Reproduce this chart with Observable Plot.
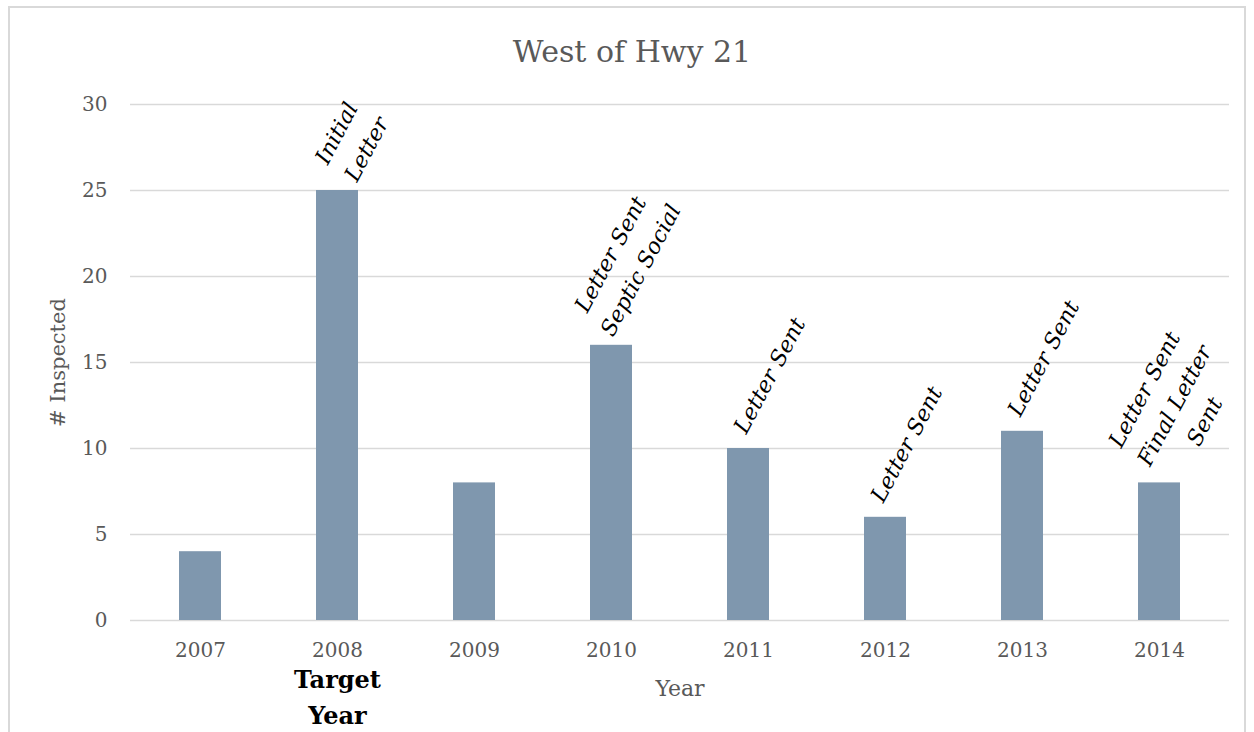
<!DOCTYPE html>
<html>
<head>
<meta charset="utf-8">
<script src="https://cdn.jsdelivr.net/npm/d3@7"></script>
<script src="https://cdn.jsdelivr.net/npm/@observablehq/plot@0.6"></script>
<style>
  html, body { margin: 0; padding: 0; background: #ffffff; width: 1254px; height: 732px; overflow: hidden; }
  #frame { position: absolute; left: 8px; top: 6px; width: 1238px; height: 760px; box-sizing: border-box; border: 2px solid #d9d9d9; }
  #title { position: absolute; left: 0; top: 34px; width: 1264px; text-align: center; font-family: 'DejaVu Serif', serif; font-size: 30px; line-height: 36px; color: #595959; }
  #chart { position: absolute; left: 0; top: 80px; }
</style>
</head>
<body>
<div id="frame"></div>
<div id="title"></div>
<div id="chart"></div>
<script>
// ---- data ----
const chartTitle = "West of Hwy 21";
const years = ["2007", "2008", "2009", "2010", "2011", "2012", "2013", "2014"];
const inspected = [4, 25, 8, 16, 10, 6, 11, 8];
const yTicks = [0, 5, 10, 15, 20, 25, 30];
const annotationYears = ["2008", "2010", "2011", "2012", "2013", "2014"];
const annotationTexts = [
  "Initial\nLetter",
  "Letter Sent\nSeptic Social",
  "Letter Sent",
  "Letter Sent",
  "Letter Sent",
  "Letter Sent\nFinal Letter\nSent"
];
const targetYear = "2008";
const targetLabel = "Target\nYear";
const yLabel = "# Inspected";
const xLabel = "Year";

// ---- chart ----
document.getElementById("title").textContent = chartTitle;

const fontFamily = "'DejaVu Serif', serif";
const table = years.map((year, i) => ({year, value: inspected[i]}));

const annFont = 22;
const annLine = 34;
const angle = 62;
const th = angle * Math.PI / 180;
const gapByLines = [15, 9, 1];
const dxByLines = [18, 11, 12];
const ctx = document.createElement("canvas").getContext("2d");
ctx.font = `italic ${annFont}px 'DejaVu Serif'`;

const annotationMarks = annotationYears.map((yr, i) => {
  const txt = annotationTexts[i];
  const lines = txt.split("\n");
  const n = lines.length;
  const Lmax = Math.max(...lines.map(l => ctx.measureText(l).width));
  const gh = 0.7 * annFont;
  const Hv = Lmax * Math.sin(th) + ((n - 1) * annLine + gh) * Math.cos(th);
  const dy = -(gapByLines[n - 1] + Hv / 2);
  const dx = dxByLines[n - 1];
  const v = inspected[years.indexOf(yr)];
  return Plot.text([{year: yr, value: v, text: txt}], {
    x: "year", y: "value", text: "text",
    dx, dy, rotate: -angle,
    textAnchor: "middle", lineAnchor: "middle",
    fontStyle: "italic", fontSize: annFont, lineHeight: annLine / annFont,
    fill: "#000000", fontFamily
  });
});

const chart = Plot.plot({
  width: 1254,
  height: 652,
  marginTop: 24,
  marginBottom: 112,
  marginLeft: 130,
  marginRight: 25,
  style: {fontFamily, fontSize: "20px", color: "#595959", background: "transparent", overflow: "visible"},
  x: {domain: years, paddingInner: 0.69, paddingOuter: 0.345, label: null},
  y: {domain: [0, 30], label: null},
  marks: [
    Plot.gridY(yTicks, {stroke: "#d9d9d9", strokeOpacity: 1, strokeWidth: 1.5}),
    Plot.axisY(yTicks, {tickSize: 0, tickPadding: 23, label: null, fontSize: 20}),
    Plot.axisX({tickSize: 0, tickPadding: 22, label: null, fontSize: 20}),
    Plot.barY(table, {x: "year", y: "value", fill: "#7f97ae"}),
    ...annotationMarks,
    Plot.text([{year: targetYear, label: targetLabel}], {
      x: "year", text: "label", frameAnchor: "bottom", dy: 74,
      textAnchor: "middle", fontWeight: "bold", fontSize: 24, lineHeight: 1.5, lineAnchor: "middle",
      fill: "#000000", fontFamily
    }),
    Plot.text([yLabel], {
      text: d => d, frameAnchor: "left", dx: -72.5, rotate: -90,
      textAnchor: "middle", lineAnchor: "middle", fontSize: 21, fill: "#595959", fontFamily
    }),
    Plot.text([xLabel], {
      text: d => d, frameAnchor: "bottom", dy: 68,
      textAnchor: "middle", lineAnchor: "middle", fontSize: 22, fill: "#595959", fontFamily
    })
  ]
});
document.getElementById("chart").appendChild(chart);
</script>
</body>
</html>
